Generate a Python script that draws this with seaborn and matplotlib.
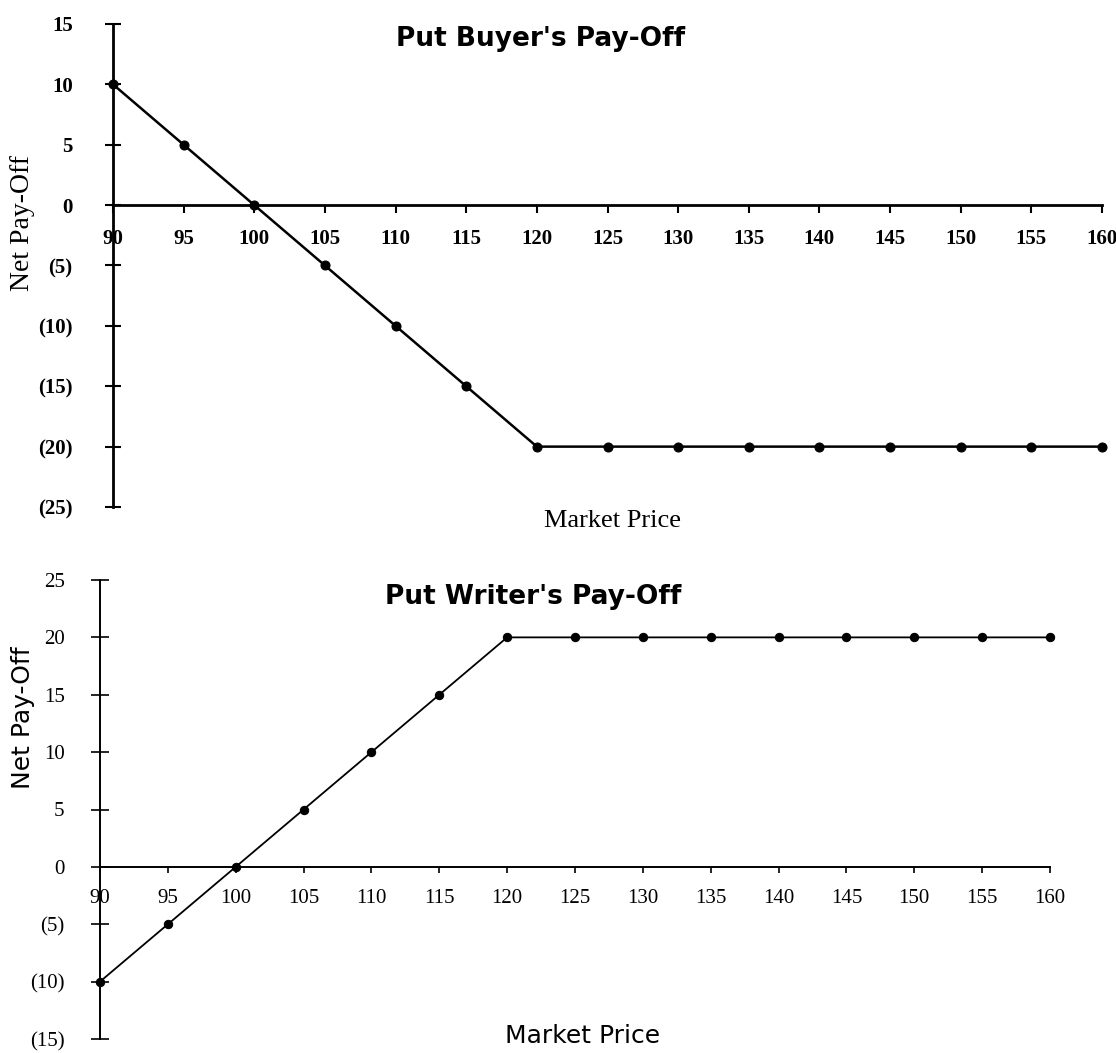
import seaborn as sns
import matplotlib.pyplot as plt
import pandas as pd

# Market prices and net pay-offs
market_price = [90, 95, 100, 105, 110, 115, 120, 125, 130, 135, 140, 145, 150, 155, 160]
buyer_payoff = [10, 5, 0, -5, -10, -15, -20, -20, -20, -20, -20, -20, -20, -20, -20]
writer_payoff = [-10, -5, 0, 5, 10, 15, 20, 20, 20, 20, 20, 20, 20, 20, 20]

buyer_yticks = [15, 10, 5, 0, -5, -10, -15, -20, -25]
buyer_ylabels = ['15', '10', '5', '0', '(5)', '(10)', '(15)', '(20)', '(25)']
writer_yticks = [25, 20, 15, 10, 5, 0, -5, -10, -15]
writer_ylabels = ['25', '20', '15', '10', '5', '0', '(5)', '(10)', '(15)']

df = pd.DataFrame({'price': market_price, 'buyer': buyer_payoff, 'writer': writer_payoff})

sns.set_style('white')
plt.rcParams['font.family'] = ['DejaVu Sans']
plt.rcParams['text.color'] = 'black'
plt.rcParams['axes.labelcolor'] = 'black'

W, H = 1116, 1053
fig = plt.figure(figsize=(W / 100, H / 100), dpi=100)


def px_axes(left, top, right, bottom):
    return fig.add_axes([left / W, 1 - bottom / H, (right - left) / W, (bottom - top) / H])


serif = 'Liberation Serif'

# ---- Put buyer ----
ax1 = px_axes(113, 24, 1102, 507)
sns.lineplot(data=df, x='price', y='buyer', ax=ax1, color='black', linewidth=1.8,
             marker='o', markersize=6.5, markeredgecolor='black', clip_on=False)
ax1.set_xlim(90, 160)
ax1.set_ylim(-25, 15)
ax1.spines['top'].set_visible(False)
ax1.spines['right'].set_visible(False)
ax1.spines['left'].set_position(('data', 90))
ax1.spines['bottom'].set_position(('data', 0))
for s in ['left', 'bottom']:
    ax1.spines[s].set_linewidth(2.0)
    ax1.spines[s].set_color('black')
ax1.set_xticks(market_price)
ax1.set_xticklabels([str(p) for p in market_price], fontfamily=serif, fontsize=15, fontweight='bold')
ax1.set_yticks(buyer_yticks)
ax1.set_yticklabels(buyer_ylabels, fontfamily=serif, fontsize=15, fontweight='bold')
ax1.tick_params(axis='x', bottom=True, direction='out', length=6, width=1.5, pad=11, colors='black')
ax1.tick_params(axis='y', left=True, direction='inout', length=12, width=1.5, pad=23, colors='black')
ax1.set_xlabel('Market Price', fontfamily=serif, fontsize=19, va='center')
ax1.xaxis.set_label_coords(0.505, -0.029)
ax1.set_ylabel('Net Pay-Off', fontfamily=serif, fontsize=20, va='center', ha='center')
ax1.yaxis.set_label_coords(-0.092, 0.588)
ax1.text(0.432, 0.969, "Put Buyer's Pay-Off", transform=ax1.transAxes, ha='center', va='center',
         fontsize=19, fontweight='bold')

# ---- Put writer ----
ax2 = px_axes(100, 580, 1050, 1039)
sns.lineplot(data=df, x='price', y='writer', ax=ax2, color='black', linewidth=1.3,
             marker='o', markersize=6, markeredgecolor='black', clip_on=False)
ax2.set_xlim(90, 160)
ax2.set_ylim(-15, 25)
ax2.spines['top'].set_visible(False)
ax2.spines['right'].set_visible(False)
ax2.spines['left'].set_position(('data', 90))
ax2.spines['bottom'].set_position(('data', 0))
for s in ['left', 'bottom']:
    ax2.spines[s].set_linewidth(1.4)
    ax2.spines[s].set_color('black')
ax2.set_xticks(market_price)
ax2.set_xticklabels([str(p) for p in market_price], fontfamily=serif, fontsize=15)
ax2.set_yticks(writer_yticks)
ax2.set_yticklabels(writer_ylabels, fontfamily=serif, fontsize=15)
ax2.tick_params(axis='x', bottom=True, direction='out', length=4, width=1.2, pad=12, colors='black')
ax2.tick_params(axis='y', left=True, direction='inout', length=13, width=1.2, pad=19, colors='black')
ax2.set_xlabel('Market Price', fontsize=18, va='center')
ax2.xaxis.set_label_coords(0.508, 0.0065)
ax2.set_ylabel('Net Pay-Off', fontsize=18, va='center', ha='center')
ax2.yaxis.set_label_coords(-0.081, 0.70)
ax2.text(0.456, 0.962, "Put Writer's Pay-Off", transform=ax2.transAxes, ha='center', va='center',
         fontsize=19, fontweight='bold')

fig.savefig('out.png', dpi=100, facecolor='white')
